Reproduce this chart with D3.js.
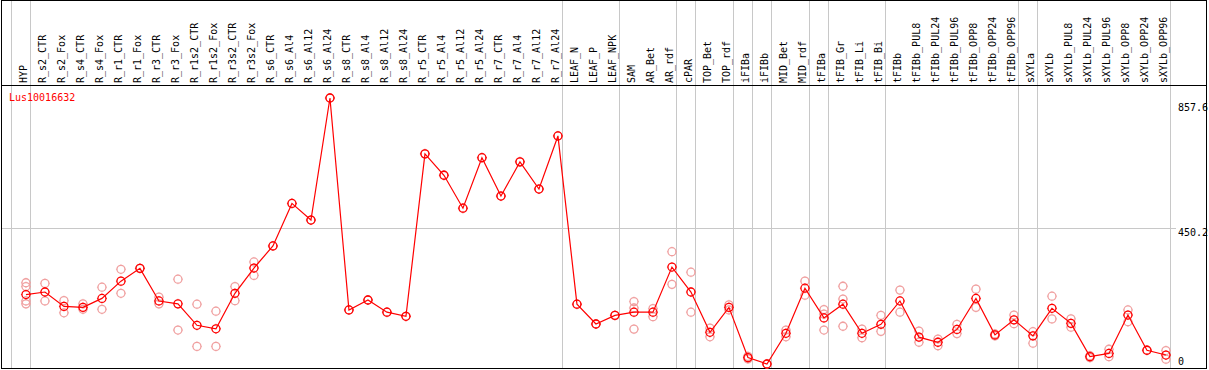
<!DOCTYPE html>
<html>
<head>
<meta charset="utf-8">
<script src="https://cdn.jsdelivr.net/npm/d3@7"></script>
<style>
  body { margin: 0; background: #fff; }
  svg { display: block; }
  text { font-family: "DejaVu Sans Mono", "Liberation Mono", monospace; font-size: 10px; }
</style>
</head>
<body>
<svg id="chart" width="1209" height="370"></svg>
<script>
// gene + sample names
const geneName = "Lus10016632";
const categories = [
  "HYP", "R_s2_CTR", "R_s2_Fox", "R_s4_CTR", "R_s4_Fox", "R_r1_CTR", "R_r1_Fox", "R_r3_CTR", "R_r3_Fox",
  "R_r1s2_CTR", "R_r1s2_Fox", "R_r3s2_CTR", "R_r3s2_Fox", "R_s6_CTR", "R_s6_Al4", "R_s6_Al12", "R_s6_Al24",
  "R_s8_CTR", "R_s8_Al4", "R_s8_Al12", "R_s8_Al24", "R_r5_CTR", "R_r5_Al4", "R_r5_Al12", "R_r5_Al24",
  "R_r7_CTR", "R_r7_Al4", "R_r7_Al12", "R_r7_Al24", "LEAF_N", "LEAF_P", "LEAF_NPK", "SAM", "AR_Bet", "AR_rdf",
  "cPAR", "TOP_Bet", "TOP_rdf", "iFIBa", "iFIBb", "MID_Bet", "MID_rdf", "tFIBa", "tFIB_Gr", "tFIB_Li", "tFIB_Bi",
  "tFIBb", "tFIBb_PUL8", "tFIBb_PUL24", "tFIBb_PUL96", "tFIBb_OPP8", "tFIBb_OPP24", "tFIBb_OPP96", "sXYLa",
  "sXYLb", "sXYLb_PUL8", "sXYLb_PUL24", "sXYLb_PUL96", "sXYLb_OPP8", "sXYLb_OPP24", "sXYLb_OPP96"
];

// mean expression (joined red line)
const meanValues = [
  243, 251, 206, 203, 231, 285, 325, 223, 214,
  147, 136, 247, 326, 395, 528, 476, 857.6,
  195, 226, 188, 175, 683, 616, 513, 671,
  551, 658, 573, 739, 213, 151, 178, 188, 188, 329,
  251, 125, 203, 46, 26, 122, 263, 170, 213, 122, 150,
  223, 110, 94, 134, 231, 117, 164, 114,
  200, 153, 49, 59, 179, 69, 54
];

// single replicates (light circles)
const replicates = [
  [280, 268, 223, 214], [278, 223], [224, 186], [214, 197], [266, 197], [322, 247], [325], [235, 214], [291, 132],
  [213, 81], [191, 81], [268, 224], [345, 303], [395], [528], [476], [857.6],
  [195], [226], [188], [175], [683], [616], [513], [671],
  [551], [658], [573], [739], [213], [151], [178], [221, 201, 135], [199, 174], [377, 275],
  [313, 188], [138, 111], [211, 195], [50, 42], [26], [132, 111], [285, 241], [196, 132, 182], [269, 229, 144], [135, 108], [178, 128],
  [257, 188], [129, 94], [104, 83], [150, 121], [260, 203], [120, 114], [179, 152], [127, 91],
  [238, 167], [167, 141], [52, 46], [72, 49], [195, 158], [69], [68, 41]
];

// index of last sample in each group (grey separators)
const groupEnds = [0, 28, 31, 34, 35, 37, 38, 39, 41, 42, 45, 52, 53, 60];

const tickValues = [857.6, 450.2, 0];
const tickLabels = ["857.6", "450.2", "0"];
const gridValues = [450.2];

const svg = d3.select("#chart");
const W = 1209, headerY = 86, bottom = 368;

const x = d3.scaleBand().domain(categories).range([11.7, 1170.7]);
const px = c => x(c) + x.bandwidth() * 0.75;
const y = d3.scaleLinear().domain([0, 857.6]).range([372.3, 98]);

svg.append("rect").attr("width", W).attr("height", 370).attr("fill", "#fff");

// horizontal grid
svg.append("g").selectAll("line").data(gridValues).join("line")
  .attr("x1", 2).attr("x2", 1176)
  .attr("y1", d => Math.round(y(d)) + 0.5).attr("y2", d => Math.round(y(d)) + 0.5)
  .attr("stroke", "#c8c8c8").attr("shape-rendering", "crispEdges");

// group separators
const sepX = [x(categories[0])].concat(groupEnds.map(i => x(categories[i]) + x.bandwidth()));
svg.append("g").selectAll("line").data(sepX).join("line")
  .attr("x1", d => Math.round(d) - 0.5).attr("x2", d => Math.round(d) - 0.5)
  .attr("y1", 0).attr("y2", bottom)
  .attr("stroke", "#c8c8c8").attr("shape-rendering", "crispEdges");

// frame
svg.append("rect").attr("x", 1.5).attr("y", 0.5).attr("width", 1205).attr("height", bottom)
  .attr("fill", "none").attr("stroke", "#000").attr("stroke-width", 1.5).attr("shape-rendering", "crispEdges");
svg.append("line").attr("x1", 1).attr("x2", 1207).attr("y1", headerY - 0.5).attr("y2", headerY - 0.5)
  .attr("stroke", "#000").attr("shape-rendering", "crispEdges");

// rotated sample labels
svg.append("g").selectAll("text").data(categories).join("text")
  .attr("transform", d => `translate(${px(d) + 1.5},83) rotate(-90)`)
  .attr("fill", "#000")
  .text(d => d);

// y labels
svg.append("g").selectAll("text").data(tickValues).join("text")
  .attr("x", 1178)
  .attr("y", d => Math.min(Math.max(y(d) + 8, 111), 365))
  .attr("fill", "#000")
  .text((d, i) => tickLabels[i]);

svg.append("text").attr("x", 9).attr("y", 101).attr("fill", "#ff0000").text(geneName);

const tick = "M0,-5V-4M0,4V5M-5,0H-4M4,0H5";
function marker(sel, color) {
  sel.append("circle").attr("r", 4).attr("fill", "none").attr("stroke", color).attr("stroke-width", 1.3);
  sel.append("path").attr("d", tick).attr("stroke", color).attr("stroke-width", 0.8);
}

// replicate circles
const repData = [];
replicates.forEach((arr, i) => arr.forEach(v => repData.push({ c: categories[i], v })));
svg.append("g").selectAll("g").data(repData).join("g")
  .attr("transform", d => `translate(${px(d.c)},${y(d.v)})`)
  .call(marker, "#f0a0a0");

// mean line
const line = d3.line().x((d, i) => px(categories[i])).y(d => y(d));
svg.append("path").datum(meanValues).attr("d", line)
  .attr("fill", "none").attr("stroke", "#ff0000").attr("stroke-width", 1.2);

svg.append("g").selectAll("g").data(meanValues).join("g")
  .attr("transform", (d, i) => `translate(${px(categories[i])},${y(d)})`)
  .call(marker, "#ff0000");
</script>
</body>
</html>
